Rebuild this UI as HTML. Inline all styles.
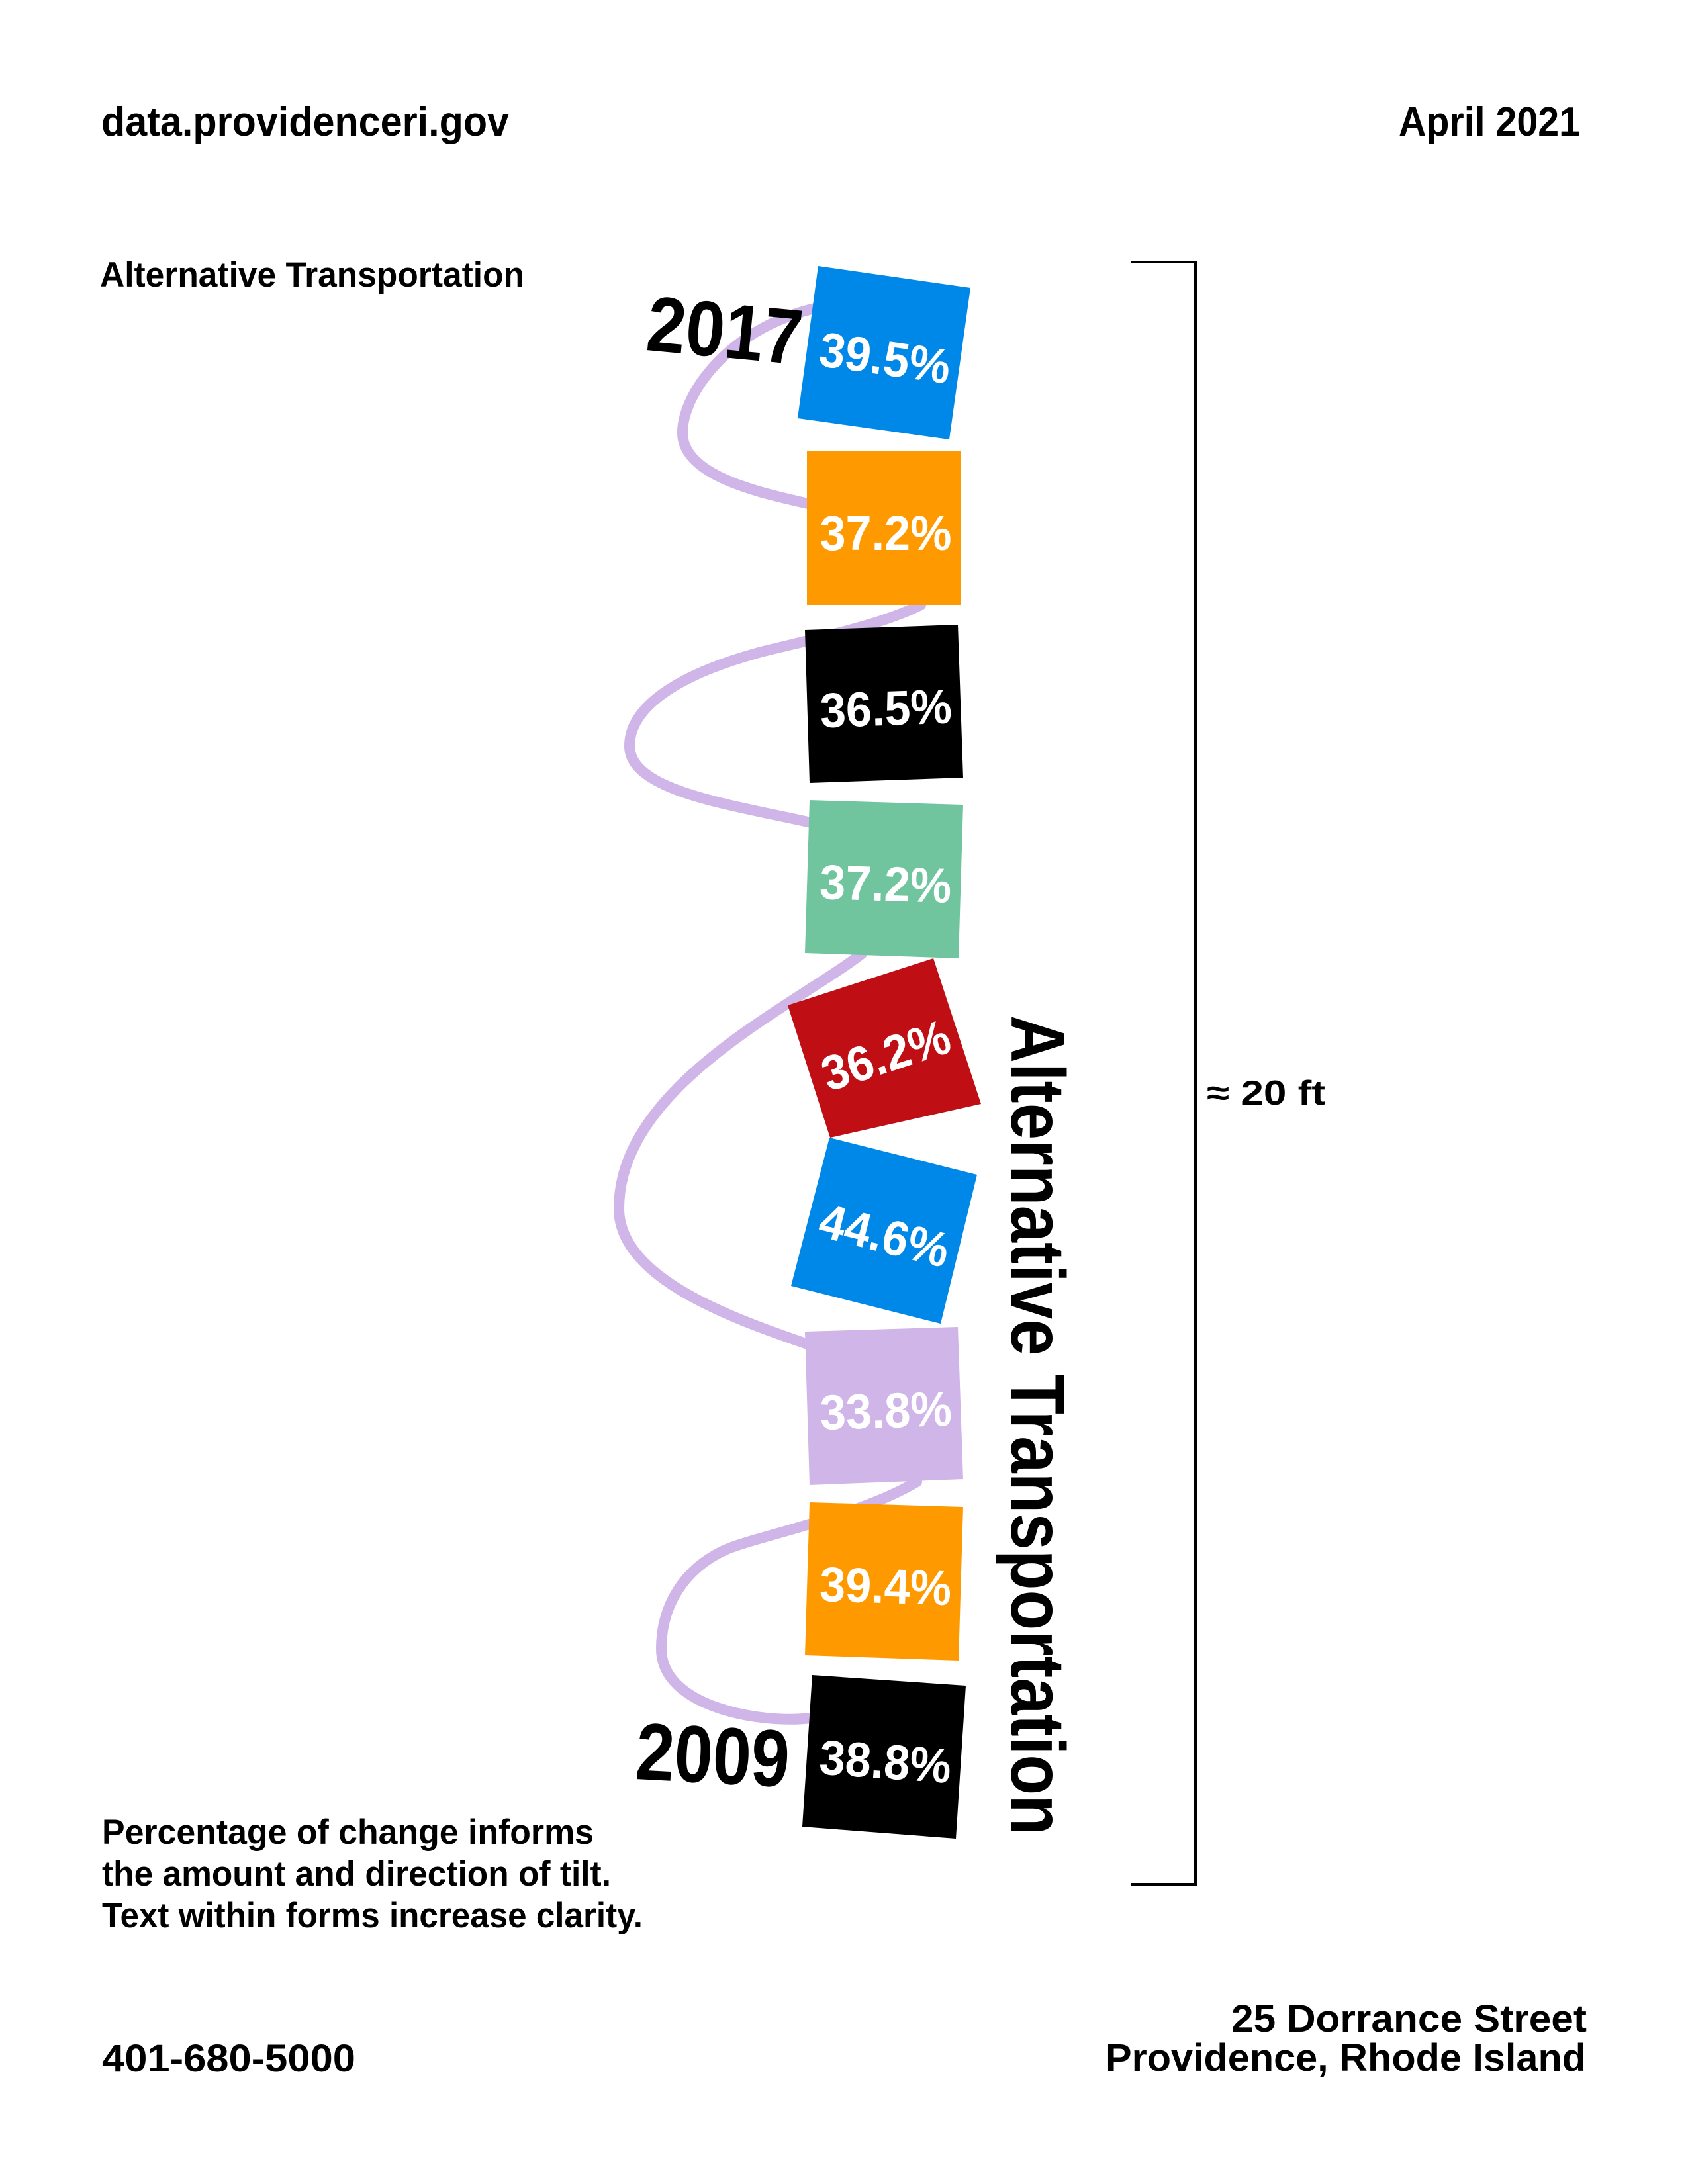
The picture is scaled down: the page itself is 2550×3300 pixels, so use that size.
<!DOCTYPE html>
<html><head><meta charset="utf-8"><style>
html,body{margin:0;padding:0;background:#fff;}
svg{display:block;}
text{font-family:"Liberation Sans",Arial,sans-serif;font-weight:bold;}
</style></head><body>
<svg width="2550" height="3300" viewBox="0 0 2550 3300" xmlns="http://www.w3.org/2000/svg">
<rect width="2550" height="3300" fill="#fff"/>
<text x="153" y="205" font-size="62" textLength="616" lengthAdjust="spacingAndGlyphs">data.providenceri.gov</text>
<text x="2387" y="205" font-size="62" text-anchor="end" textLength="274" lengthAdjust="spacingAndGlyphs">April 2021</text>
<text x="151" y="433" font-size="53" textLength="641" lengthAdjust="spacingAndGlyphs">Alternative Transportation</text>
<text x="154" y="2786" font-size="53" textLength="743" lengthAdjust="spacingAndGlyphs">Percentage of change informs</text>
<text x="154" y="2849" font-size="53" textLength="769" lengthAdjust="spacingAndGlyphs">the amount and direction of tilt.</text>
<text x="154" y="2912" font-size="53" textLength="817" lengthAdjust="spacingAndGlyphs">Text within forms increase clarity.</text>
<text x="154" y="3130" font-size="58" textLength="383" lengthAdjust="spacingAndGlyphs">401-680-5000</text>
<text x="2397" y="3070" font-size="58" text-anchor="end" textLength="537" lengthAdjust="spacingAndGlyphs">25 Dorrance Street</text>
<text x="2396" y="3129" font-size="58" text-anchor="end" textLength="726" lengthAdjust="spacingAndGlyphs">Providence, Rhode Island</text>
<path d="M1709,396 H1806 V2847 H1709" fill="none" stroke="#000" stroke-width="4"/>
<text x="1823" y="1669" font-size="52" textLength="179" lengthAdjust="spacingAndGlyphs">≈ 20 ft</text>
<g fill="none" stroke="#cfb5e8" stroke-width="16" stroke-linecap="round">
<path d="M1240,464 C1110,490 1031,590 1031,654 C1031,720 1150,745 1225,762"/>
<path d="M1391,914 C1330,945 1230,965 1150,985 C1020,1020 951,1070 951,1127 C951,1195 1100,1215 1225,1243"/>
<path d="M1302,1441 C1200,1520 935,1640 935,1826 C935,1930 1100,1990 1220,2031"/>
<path d="M1385,2239 C1300,2290 1150,2320 1100,2340 C1030,2370 999,2430 999,2491 C999,2580 1150,2605 1225,2596"/>
</g>
<polygon points="1236,402 1466,435 1434,664 1205,632" fill="#0088e8"/>
<polygon points="1219,682 1452,682 1452,914 1219,914" fill="#fe9a00"/>
<polygon points="1216,952 1447,944 1455,1175 1223,1183" fill="#000"/>
<polygon points="1223,1209 1455,1216 1448,1448 1216,1440" fill="#70c59f"/>
<polygon points="1190,1519 1410,1448 1482,1668 1254,1719" fill="#c00e15"/>
<polygon points="1253,1719 1476,1775 1421,2000 1195,1943" fill="#0088e8"/>
<polygon points="1216,2012 1447,2005 1455,2235 1223,2244" fill="#cfb5e8"/>
<polygon points="1223,2270 1455,2277 1448,2509 1216,2501" fill="#fe9a00"/>
<polygon points="1227,2531 1459,2547 1444,2778 1212,2760" fill="#000"/>
<g fill="#fff" font-size="74" text-anchor="middle">
<text x="1338" y="566" transform="rotate(8 1335 533)" textLength="199" lengthAdjust="spacingAndGlyphs">39.5%</text>
<text x="1338" y="831" textLength="199" lengthAdjust="spacingAndGlyphs">37.2%</text>
<text x="1338" y="1096" transform="rotate(-2 1335 1063)" textLength="199" lengthAdjust="spacingAndGlyphs">36.5%</text>
<text x="1338" y="1361" transform="rotate(1.7 1335 1328)" textLength="199" lengthAdjust="spacingAndGlyphs">37.2%</text>
<text x="1336" y="1621" transform="rotate(-18 1334 1588)" textLength="199" lengthAdjust="spacingAndGlyphs">36.2%</text>
<text x="1338" y="1892" transform="rotate(14 1336 1859)" textLength="199" lengthAdjust="spacingAndGlyphs">44.6%</text>
<text x="1338" y="2157" transform="rotate(-1.8 1335 2124)" textLength="199" lengthAdjust="spacingAndGlyphs">33.8%</text>
<text x="1338" y="2422" transform="rotate(1.8 1335 2389)" textLength="199" lengthAdjust="spacingAndGlyphs">39.4%</text>
<text x="1338" y="2687" transform="rotate(4 1335 2654)" textLength="199" lengthAdjust="spacingAndGlyphs">38.8%</text>
</g>
<text x="1095" y="540" font-size="118" text-anchor="middle" transform="rotate(5.4 1095 500)" textLength="235" lengthAdjust="spacingAndGlyphs">2017</text>
<text x="1077" y="2694" font-size="122" text-anchor="middle" transform="rotate(3 1077 2650)" textLength="232" lengthAdjust="spacingAndGlyphs">2009</text>
<text font-size="115" transform="translate(1528,1534) rotate(90)" textLength="1239" lengthAdjust="spacingAndGlyphs">Alternative Transportation</text>
</svg>
</body></html>
